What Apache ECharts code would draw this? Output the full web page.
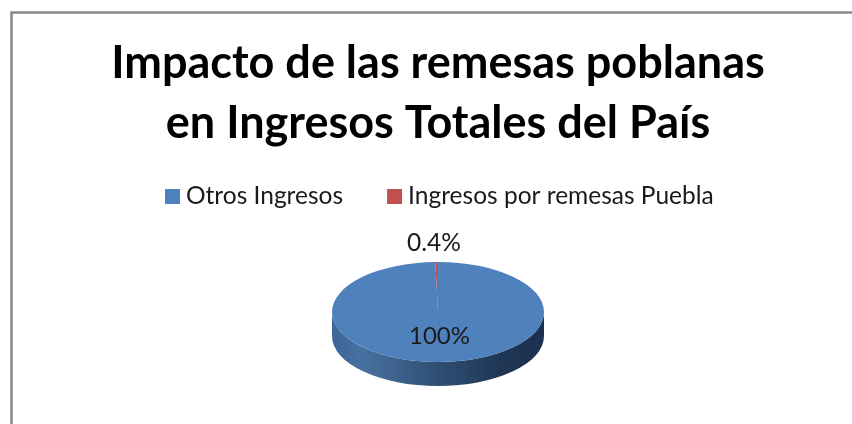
<!DOCTYPE html>
<html>
<head>
<meta charset="utf-8">
<style>html,body{margin:0;background:#fff}#chart{width:852px;height:424px}</style>
<script src="https://cdn.jsdelivr.net/npm/echarts@6/dist/echarts.min.js"></script>
</head>
<body>
<div id="chart"></div>
<script>
const titleLines = ['Impacto de las remesas poblanas', 'en Ingresos Totales del País'];
const sliceNames = ['Otros Ingresos', 'Ingresos por remesas Puebla'];
const sliceValues = [99.6, 0.4];
const sliceLabels = ['100%', '0.4%'];
const sliceColors = ['#4f81bd', '#c0504d'];

const FONT = 'Lato, "Open Sans", sans-serif';
const CX = 438;
const CY = 312;
const RX = 106;
const RY = 50;
const DEPTH = 24;
const total = sliceValues.reduce((a, b) => a + b, 0);

const chart = echarts.init(document.getElementById('chart'), null, { renderer: 'canvas' });

// ellipse = a plain sector squashed by its group, start angle 12 o'clock, clockwise
const renderSlice = (index) => (params, api) => {
  const before = sliceValues.slice(0, index).reduce((a, b) => a + b, 0);
  const start = -Math.PI / 2 + (before / total) * Math.PI * 2;
  const end = start + (api.value(0) / total) * Math.PI * 2;
  const children = [];
  if (index === 0) {
    children.push({
      type: 'path',
      shape: {
        pathData: `M${CX - RX} ${CY}A${RX} ${RY} 0 0 0 ${CX + RX} ${CY}L${CX + RX} ${CY + DEPTH}A${RX} ${RY} 0 0 1 ${CX - RX} ${CY + DEPTH}Z`,
        x: CX - RX, y: CY, width: RX * 2, height: RY + DEPTH, layout: 'cover',
      },
      style: {
        fill: new echarts.graphic.LinearGradient(0, 0, 1, 0, [
          { offset: 0, color: '#3d6697' },
          { offset: 0.15, color: '#47719f' },
          { offset: 0.5, color: '#2f4e73' },
          { offset: 0.8, color: '#1f3654' },
          { offset: 1, color: '#1c3050' },
        ]),
      },
    });
  }
  children.push({
    type: 'group',
    x: CX,
    y: CY,
    scaleY: RY / RX,
    children: [{
      type: 'sector',
      shape: { cx: 0, cy: 0, r: RX, r0: 0, startAngle: start, endAngle: end, clockwise: true },
      style: { fill: sliceColors[index] },
    }],
  });
  return { type: 'group', children };
};

// labels go last so the slices never cover them
const renderLabels = () => ({
  type: 'group',
  children: [
    { type: 'text', x: 439.5, y: 336, style: { text: sliceLabels[0], font: `24px ${FONT}`, fill: '#1a1a1a', align: 'center', verticalAlign: 'middle' } },
    { type: 'text', x: 434, y: 243, style: { text: sliceLabels[1], font: `24.5px ${FONT}`, fill: '#1a1a1a', align: 'center', verticalAlign: 'middle' } },
  ],
});

chart.setOption({
  animation: false,
  backgroundColor: '#ffffff',
  title: {
    text: titleLines.join('\n'),
    left: 433,
    top: 28,
    textAlign: 'center',
    textStyle: { fontFamily: FONT, fontSize: 45, fontWeight: 'bold', color: '#000000', lineHeight: 60 },
  },
  legend: {
    top: 179,
    left: 160,
    itemWidth: 15,
    itemHeight: 15,
    itemGap: 44,
    icon: 'rect',
    data: sliceNames,
    textStyle: { fontFamily: FONT, fontSize: 24.5, color: '#1a1a1a', padding: [0, 0, 0, 1] },
  },
  graphic: [{
    type: 'rect',
    silent: true,
    shape: { x: 11.5, y: 12.5, width: 1000, height: 600 },
    style: { fill: 'none', stroke: '#888888', lineWidth: 2.5 },
  }],
  series: [
    { type: 'custom', name: sliceNames[0], coordinateSystem: 'none', color: sliceColors[0], data: [[sliceValues[0]]], renderItem: renderSlice(0) },
    { type: 'custom', name: sliceNames[1], coordinateSystem: 'none', color: sliceColors[1], data: [[sliceValues[1]]], renderItem: renderSlice(1) },
    { type: 'custom', coordinateSystem: 'none', data: [[0]], renderItem: renderLabels, silent: true },
  ],
});

window.addEventListener('resize', () => chart.resize());
</script>
</body>
</html>
